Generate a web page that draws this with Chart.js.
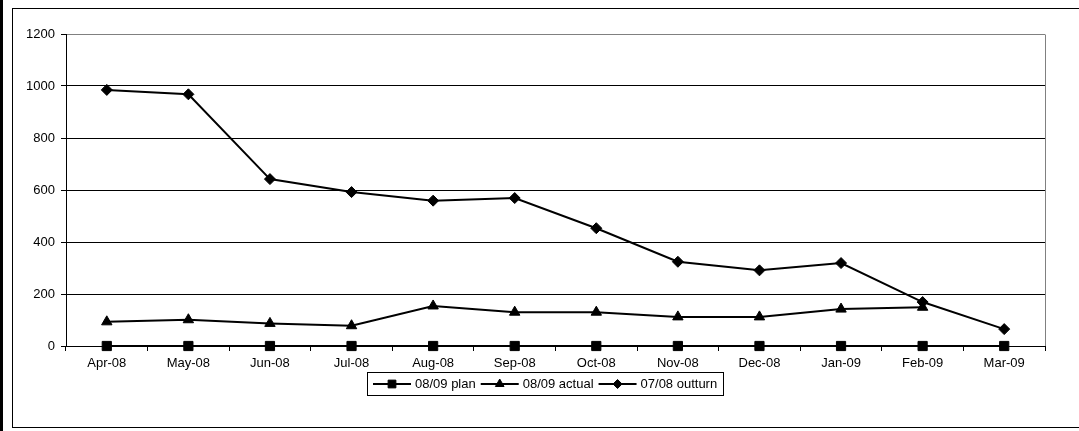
<!DOCTYPE html>
<html>
<head>
<meta charset="utf-8">
<script src="https://cdn.jsdelivr.net/npm/chart.js@4/dist/chart.umd.min.js"></script>
<style>
  html, body { margin: 0; padding: 0; background: #ffffff; }
  #wrap { width: 1079px; height: 431px; position: relative; }
  canvas { display: block; }
</style>
</head>
<body>
<div id="wrap"><canvas id="chart" width="1079" height="431"></canvas></div>
<script>
// Monthly figures, April 2008 to March 2009
const months = ['Apr-08', 'May-08', 'Jun-08', 'Jul-08', 'Aug-08', 'Sep-08',
                'Oct-08', 'Nov-08', 'Dec-08', 'Jan-09', 'Feb-09', 'Mar-09'];
const plan0809    = [0, 0, 0, 0, 0, 0, 0, 0, 0, 0, 0, 0];
const actual0809  = [93, 101, 87, 78, 154, 130, 130, 112, 112, 142, 149, null];
const outturn0708 = [985, 968, 642, 592, 559, 569, 453, 324, 291, 319, 169, 65];
const yTicks = [0, 200, 400, 600, 800, 1000, 1200];

const FONT = '"Liberation Sans", Arial, sans-serif';

// Marker shapes used by the legend samples
function drawMarker(ctx, style, r, x, y) {
  ctx.beginPath();
  if (style === 'rect') {
    const s = r * Math.SQRT1_2;
    ctx.rect(x - s, y - s, 2 * s, 2 * s);
  } else if (style === 'triangle') {
    ctx.moveTo(x, y - r);
    ctx.lineTo(x + r * Math.sin(2 * Math.PI / 3), y - r * Math.cos(2 * Math.PI / 3));
    ctx.lineTo(x + r * Math.sin(4 * Math.PI / 3), y - r * Math.cos(4 * Math.PI / 3));
    ctx.closePath();
  } else {
    ctx.moveTo(x, y - r);
    ctx.lineTo(x + r, y);
    ctx.lineTo(x, y + r);
    ctx.lineTo(x - r, y);
    ctx.closePath();
  }
  ctx.fill();
  ctx.stroke();
}

// White page, thin frame around the chart and the plot area border
const framePlugin = {
  id: 'frame',
  beforeDraw(chart) {
    const ctx = chart.ctx;
    ctx.save();
    ctx.fillStyle = '#ffffff';
    ctx.fillRect(0, 0, chart.width, chart.height);
    ctx.restore();
  },
  afterDraw(chart) {
    const ctx = chart.ctx;
    const a = chart.chartArea;
    ctx.save();
    ctx.fillStyle = '#000000';
    ctx.fillRect(0, 0, 3, chart.height);
    ctx.strokeStyle = '#000000';
    ctx.lineWidth = 1;
    ctx.strokeRect(12.5, 8.5, chart.width + 10, 419);
    ctx.strokeStyle = '#808080';
    ctx.beginPath();
    ctx.moveTo(Math.round(a.right) + 0.5, Math.round(a.top) + 0.5);
    ctx.lineTo(Math.round(a.right) + 0.5, Math.round(a.bottom));
    ctx.stroke();
    ctx.restore();
  }
};

// Boxed legend at the bottom: line sample with marker, then the series name
const lineLegendPlugin = {
  id: 'lineLegend',
  afterDraw(chart) {
    const ctx = chart.ctx;
    const sets = chart.data.datasets;
    const sample = 38, textGap = 4, itemGap = 5, pad = 6;
    ctx.save();
    ctx.font = '13px ' + FONT;
    let total = pad * 2;
    sets.forEach((ds, i) => {
      total += sample + textGap + ctx.measureText(ds.label).width;
      if (i < sets.length - 1) total += itemGap;
    });
    const top = 372, h = 23;
    const left = Math.round((12 + chart.width) / 2 - total / 2);
    ctx.strokeStyle = '#000000';
    ctx.lineWidth = 1;
    ctx.strokeRect(left + 0.5, top + 0.5, Math.round(total), h);
    const cy = top + h / 2 + 0.5;
    let x = left + pad;
    sets.forEach((ds) => {
      ctx.strokeStyle = ds.borderColor;
      ctx.lineWidth = 2;
      ctx.beginPath();
      ctx.moveTo(x, cy);
      ctx.lineTo(x + sample, cy);
      ctx.stroke();
      ctx.fillStyle = ds.pointBackgroundColor;
      ctx.strokeStyle = ds.pointBorderColor;
      ctx.lineWidth = 1;
      drawMarker(ctx, ds.pointStyle, ds.legendRadius, x + sample / 2, cy);
      x += sample + textGap;
      ctx.fillStyle = '#000000';
      ctx.textBaseline = 'middle';
      ctx.textAlign = 'left';
      ctx.fillText(ds.label, x, cy);
      x += ctx.measureText(ds.label).width + itemGap;
    });
    ctx.restore();
  }
};

new Chart(document.getElementById('chart'), {
  type: 'line',
  data: {
    labels: months,
    datasets: [
      {
        label: '08/09 plan', data: plan0809, clip: false,
        borderColor: '#000000', borderWidth: 2,
        pointStyle: 'rect', pointRadius: 6.5, legendRadius: 5.5,
        pointBackgroundColor: '#000000', pointBorderColor: '#000000', pointBorderWidth: 1
      },
      {
        label: '08/09 actual', data: actual0809, clip: false,
        borderColor: '#000000', borderWidth: 2,
        pointStyle: 'triangle', pointRadius: 6, legendRadius: 5,
        pointBackgroundColor: '#000000', pointBorderColor: '#000000', pointBorderWidth: 1
      },
      {
        label: '07/08 outturn', data: outturn0708, clip: false,
        borderColor: '#000000', borderWidth: 2,
        pointStyle: 'rectRot', pointRadius: 5.5, legendRadius: 4.5,
        pointBackgroundColor: '#000000', pointBorderColor: '#000000', pointBorderWidth: 1
      }
    ]
  },
  options: {
    responsive: false,
    animation: false,
    devicePixelRatio: 1,
    spanGaps: false,
    layout: { padding: { left: 0, right: 34, top: 34, bottom: 0 } },
    elements: { line: { tension: 0 } },
    plugins: {
      legend: { display: false },
      tooltip: { enabled: false }
    },
    scales: {
      x: {
        type: 'category',
        offset: true,
        afterFit(scale) { scale.height = 85; },
        grid: { offset: true, drawOnChartArea: false, drawTicks: true, tickLength: 5, tickColor: '#000000' },
        border: { display: true, color: '#000000', width: 1 },
        ticks: {
          color: '#000000', font: { family: FONT, size: 13 },
          padding: 5, maxRotation: 0, autoSkip: false
        }
      },
      y: {
        min: 0, max: 1200,
        afterFit(scale) { scale.width = 66; },
        afterBuildTicks(scale) { scale.ticks = yTicks.map(v => ({ value: v })); },
        grid: {
          color: (c) => (c.tick && c.tick.value === 1200 ? '#808080' : '#000000'),
          lineWidth: 1, drawTicks: true, tickLength: 5, tickColor: '#000000'
        },
        border: { display: true, color: '#000000', width: 1 },
        ticks: {
          color: '#000000', font: { family: FONT, size: 13 }, padding: 6,
          callback: (v) => String(v)
        }
      }
    }
  },
  plugins: [framePlugin, lineLegendPlugin]
});
</script>
</body>
</html>
